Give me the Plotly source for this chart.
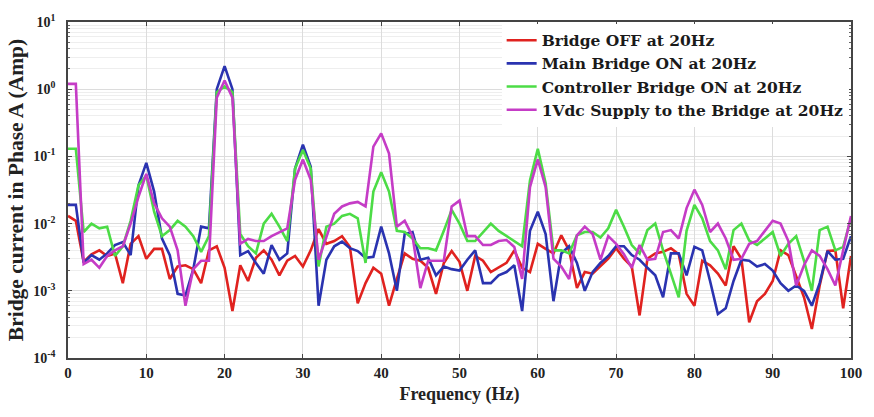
import plotly.graph_objects as go

freq = list(range(0, 101))

bridge_off = [0.013, 0.011, 0.0027, 0.0035, 0.004, 0.0033, 0.0036, 0.0013, 0.005, 0.0065,
              0.003, 0.0042, 0.0042, 0.0015, 0.0023, 0.0024, 0.0021, 0.0013, 0.004, 0.0046,
              0.0022, 0.0005, 0.0024, 0.0014, 0.0031, 0.004, 0.0029, 0.0017, 0.0028, 0.0033,
              0.0023, 0.004, 0.0083, 0.005, 0.0055, 0.0065, 0.0045, 0.00065, 0.0013, 0.0022,
              0.0018, 0.0006, 0.0015, 0.0036, 0.003, 0.0028, 0.0022, 0.0009, 0.0026, 0.0039,
              0.0027, 0.001, 0.0033, 0.0028, 0.0019, 0.0022, 0.0026, 0.004, 0.0022, 0.0019,
              0.005, 0.0042, 0.0036, 0.0067, 0.004, 0.0011, 0.0019, 0.0018, 0.0023, 0.003,
              0.0043, 0.003, 0.0023, 0.00043, 0.003, 0.0036, 0.0038, 0.0043, 0.0035, 0.0009,
              0.0006, 0.0028, 0.0024, 0.0018, 0.0012, 0.0046, 0.003, 0.00034, 0.0007, 0.0009,
              0.0014, 0.004, 0.0034, 0.0017, 0.0008, 0.00027, 0.0012, 0.0039, 0.004, 0.00055,
              0.0033]

main_on = [0.019, 0.019, 0.0026, 0.0034, 0.0029, 0.0036, 0.0048, 0.0053, 0.0034, 0.037,
           0.08, 0.03, 0.006, 0.0034, 0.0009, 0.00085, 0.0021, 0.009, 0.0085, 1.0,
           2.2, 1.0, 0.0034, 0.0039, 0.0026, 0.0018, 0.0048, 0.0029, 0.0036, 0.066,
           0.15, 0.07, 0.0006, 0.0029, 0.0046, 0.0054, 0.0043, 0.0039, 0.0031, 0.0032,
           0.009, 0.0036, 0.001, 0.007, 0.0075, 0.0029, 0.0031, 0.0017, 0.0023, 0.0021,
           0.002, 0.0029, 0.004, 0.0013, 0.0013, 0.0017, 0.0019, 0.0024, 0.0005, 0.0078,
           0.015, 0.007, 0.0007, 0.0036, 0.0046, 0.0026, 0.001, 0.0019, 0.0026, 0.0033,
           0.0046, 0.0046, 0.0034, 0.0029, 0.0022, 0.0017, 0.0008, 0.0036, 0.0036, 0.0017,
           0.0045, 0.004, 0.0014, 0.00045, 0.00055, 0.0014, 0.0029, 0.0028, 0.0023, 0.0025,
           0.002, 0.0013, 0.001, 0.0012, 0.001, 0.0006, 0.0013, 0.0039, 0.0029, 0.003,
           0.0065]

controller_on = [0.13, 0.13, 0.0075, 0.01, 0.0085, 0.009, 0.0033, 0.0046, 0.011, 0.037,
                 0.052, 0.015, 0.0065, 0.008, 0.011, 0.009, 0.0065, 0.0038, 0.0065, 0.9,
                 1.1, 0.9, 0.007, 0.0046, 0.0036, 0.01, 0.014, 0.009, 0.0055, 0.066,
                 0.125, 0.066, 0.0023, 0.009, 0.01, 0.013, 0.014, 0.012, 0.0026, 0.03,
                 0.058, 0.03, 0.0078, 0.0075, 0.006, 0.0043, 0.0043, 0.004, 0.0078, 0.016,
                 0.01, 0.0055, 0.0055, 0.0075, 0.01, 0.0078, 0.0065, 0.0055, 0.0046, 0.044,
                 0.13, 0.04, 0.004, 0.004, 0.0036, 0.0067, 0.0075, 0.0075, 0.0062, 0.0085,
                 0.016, 0.009, 0.0048, 0.0036, 0.008, 0.01, 0.004, 0.0018, 0.0008, 0.0078,
                 0.019, 0.012, 0.0055, 0.004, 0.0021, 0.008, 0.01, 0.0056, 0.0048, 0.006,
                 0.0075, 0.0033, 0.005, 0.0065, 0.0028, 0.001, 0.008, 0.009, 0.004, 0.0045,
                 0.012]

supply_1vdc = [1.2, 1.2, 0.0025, 0.0029, 0.0022, 0.0033, 0.004, 0.0046, 0.01, 0.025,
               0.055, 0.02, 0.012, 0.009, 0.004, 0.0006, 0.0021, 0.0028, 0.0028, 0.75,
               1.35, 0.75, 0.005, 0.0059, 0.0055, 0.0055, 0.0065, 0.0075, 0.0085, 0.045,
               0.09, 0.045, 0.0029, 0.0063, 0.014, 0.018, 0.02, 0.021, 0.018, 0.14,
               0.22, 0.11, 0.009, 0.011, 0.0065, 0.0011, 0.0028, 0.0028, 0.0028, 0.018,
               0.022, 0.0065, 0.0065, 0.0048, 0.0048, 0.0055, 0.0057, 0.0045, 0.0015, 0.035,
               0.09, 0.035, 0.003, 0.0023, 0.0015, 0.0067, 0.009, 0.007, 0.0029, 0.0065,
               0.005, 0.0035, 0.0022, 0.0048, 0.0029, 0.003, 0.0075, 0.008, 0.006, 0.017,
               0.032, 0.019, 0.0075, 0.01, 0.006, 0.0029, 0.003, 0.005, 0.0055, 0.0078,
               0.011, 0.01, 0.0055, 0.0012, 0.0024, 0.004, 0.0033, 0.0021, 0.0012, 0.004,
               0.013]

series_names = ["Bridge OFF at 20Hz", "Main Bridge ON at 20Hz",
                "Controller Bridge ON at 20Hz", "1Vdc Supply to the Bridge at 20Hz"]
series_colors = ["#e0221f", "#2a33b0", "#4cdc46", "#c53cc6"]

x_ticks = [0, 10, 20, 30, 40, 50, 60, 70, 80, 90, 100]
y_exponents = [-4, -3, -2, -1, 0, 1]
y_tickvals = [10.0 ** e for e in y_exponents]
y_ticktext = ["10<sup>%d</sup>" % e for e in y_exponents]

FONT = "Liberation Serif"
LEGEND_FONT = "DejaVu Serif"

fig = go.Figure()
for name, vals, col in zip(series_names,
                           [bridge_off, main_on, controller_on, supply_1vdc],
                           series_colors):
    fig.add_trace(go.Scatter(x=freq, y=vals, mode="lines", name=name,
                             line=dict(color=col, width=2.6)))

fig.update_layout(
    width=874, height=417,
    margin=dict(l=68, r=17, t=12, b=59),
    paper_bgcolor="white", plot_bgcolor="white",
    font=dict(family=FONT, color="#222222"),
    legend=dict(x=0.997, y=0.995, xanchor="right", yanchor="top",
                bgcolor="white", borderwidth=0,
                font=dict(family=LEGEND_FONT, size=15.5, color="#1a1a1a", weight="bold"),
                tracegroupgap=0, itemwidth=30),
    showlegend=True,
)

fig.update_xaxes(
    range=[0, 100], tickvals=x_ticks, ticktext=[str(v) for v in x_ticks],
    showgrid=True, gridcolor="#dcdcdc", gridwidth=1,
    showline=True, linecolor="#444444", linewidth=1.5, mirror="ticks",
    ticks="inside", ticklen=4, tickcolor="#444444",
    tickfont=dict(family=FONT, size=15, color="#222222", weight="bold"),
    title=dict(text="Frequency (Hz)", standoff=8,
               font=dict(family=FONT, size=18, color="#222222", weight="bold")),
    zeroline=False,
)

fig.update_yaxes(
    type="log", range=[-4, 1],
    tickvals=y_tickvals, ticktext=y_ticktext,
    showgrid=True, gridcolor="#dcdcdc", gridwidth=1,
    showline=True, linecolor="#444444", linewidth=1.5, mirror="ticks",
    ticks="inside", ticklen=4, tickcolor="#444444",
    tickfont=dict(family=FONT, size=14, color="#222222", weight="bold"),
    ticklabelstandoff=8,
    minor=dict(dtick="D1", ticks="inside", ticklen=2, tickcolor="#666666",
               showgrid=True, gridcolor="#eeeeee", gridwidth=1),
    title=dict(text="Bridge current in Phase A (Amp)", standoff=4,
               font=dict(family=FONT, size=21.5, color="#222222", weight="bold")),
    zeroline=False,
)

fig.write_html("out.html")
